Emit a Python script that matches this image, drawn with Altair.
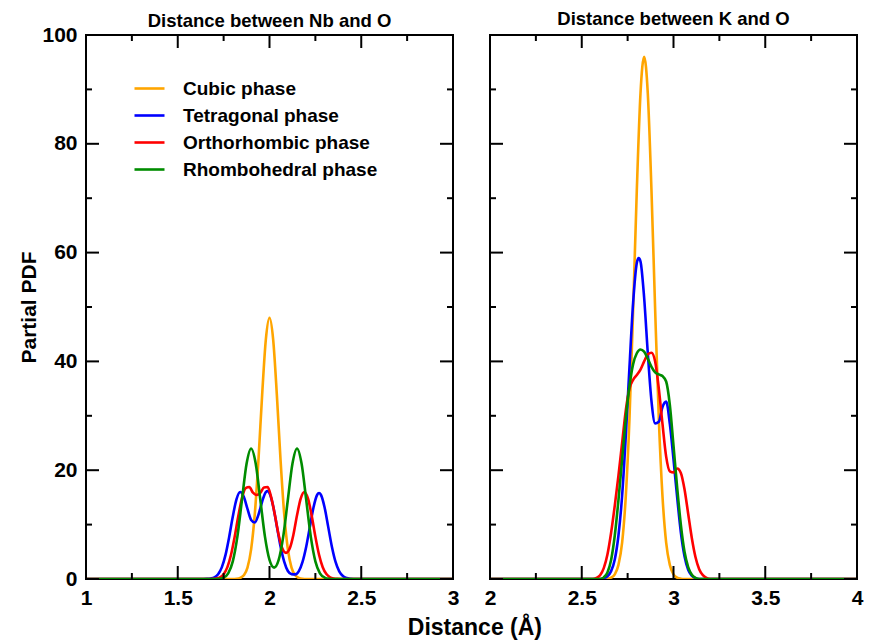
import altair as alt
import pandas as pd

phases = ["Cubic phase", "Tetragonal phase", "Orthorhombic phase", "Rhombohedral phase"]
colors = ["#ffa500", "#0000ff", "#ff0000", "#008c00"]

# ---------- Left panel: distance between Nb and O ----------
nb_cubic_x = [1.0, 1.80, 1.82, 1.84, 1.86, 1.88, 1.90, 1.92, 1.94, 1.96, 1.98, 2.00,
              2.02, 2.04, 2.06, 2.08, 2.10, 2.12, 2.14, 2.16, 2.18, 2.20, 3.0]
nb_cubic_y = [0, 0, 0.04, 0.19, 0.67, 2.1, 5.5, 12.0, 22.0, 33.9, 44.0, 48.0,
              44.0, 33.9, 22.0, 12.0, 5.5, 2.1, 0.67, 0.19, 0.04, 0, 0]

nb_tetra_x = [1.0, 1.64, 1.66, 1.68, 1.70, 1.72, 1.74, 1.76, 1.78, 1.80, 1.82, 1.84, 1.86, 1.88,
              1.90, 1.92, 1.94, 1.96, 1.98, 1.99, 2.00, 2.02, 2.04, 2.06, 2.08, 2.10, 2.12,
              2.14, 2.16, 2.18, 2.20, 2.22, 2.24, 2.26, 2.27, 2.28, 2.30, 2.32, 2.34, 2.36,
              2.38, 2.40, 2.42, 2.44, 2.46, 2.48, 3.0]
nb_tetra_y = [0, 0, 0.02, 0.1, 0.31, 0.89, 2.14, 4.39, 7.69, 11.48, 14.63, 15.98, 15.12, 12.89,
              10.86, 10.39, 11.84, 14.25, 15.99, 16.18, 15.78, 13.38, 9.71, 6.0, 3.18, 1.47, 0.9,
              0.85, 1.45, 3.14, 5.93, 9.58, 13.2, 15.49, 15.8, 15.49, 13.2, 9.58, 5.93, 3.13,
              1.4, 0.54, 0.175, 0.049, 0.011, 0, 0]

nb_ortho_x = [1.0, 1.65, 1.67, 1.69, 1.71, 1.73, 1.75, 1.77, 1.79, 1.81, 1.83, 1.85, 1.87, 1.89,
              1.91, 1.93, 1.95, 1.97, 1.99, 2.01, 2.03, 2.05, 2.07, 2.09, 2.11, 2.13, 2.15,
              2.17, 2.19, 2.21, 2.23, 2.25, 2.27, 2.29, 2.31, 2.33, 2.35, 2.37, 2.39, 3.0]
nb_ortho_y = [0, 0, 0.01, 0.02, 0.1, 0.31, 0.89, 2.14, 4.4, 7.71, 11.57, 14.89, 16.69, 16.9,
              15.86, 15.45, 15.86, 16.8, 16.9, 14.91, 11.66, 8.1, 5.6, 4.8, 5.6, 8.1, 11.72,
              14.79, 16.0, 14.77, 11.62, 7.79, 4.45, 2.16, 0.9, 0.32, 0.096, 0.024, 0, 0]

nb_rhombo_x = [1.0, 1.700, 1.725, 1.750, 1.775, 1.800, 1.825, 1.850, 1.875, 1.900, 1.925, 1.950,
               1.975, 2.000, 2.025, 2.050, 2.075, 2.100, 2.125, 2.150, 2.175, 2.200, 2.225,
               2.250, 2.275, 2.300, 2.325, 2.350, 3.0]
nb_rhombo_y = [0, 0, 0.05, 0.27, 1.05, 3.25, 7.79, 14.56, 21.18, 24.0, 21.18, 14.57,
               7.84, 3.52, 2.1, 3.52, 7.84, 14.57, 21.18, 24.0, 21.18, 14.56, 7.79,
               3.25, 1.05, 0.27, 0.05, 0, 0]

# ---------- Right panel: distance between K and O ----------
k_cubic_x = [2.0, 2.62, 2.64, 2.66, 2.68, 2.70, 2.72, 2.74, 2.76, 2.78, 2.80, 2.82, 2.84,
             2.86, 2.88, 2.90, 2.92, 2.94, 2.96, 2.98, 3.00, 3.02, 3.04, 3.06, 4.0]
k_cubic_y = [0, 0, 0.06, 0.24, 0.84, 2.6, 6.7, 15.2, 29.4, 49.5, 71.4, 89.2, 96.0,
             89.2, 71.4, 49.5, 29.4, 15.2, 6.7, 2.6, 0.84, 0.24, 0.06, 0, 0]

k_tetra_x = [2.0, 2.60, 2.62, 2.64, 2.66, 2.68, 2.70, 2.72, 2.74, 2.76, 2.78, 2.80, 2.81, 2.82,
             2.84, 2.86, 2.88, 2.90, 2.92, 2.94, 2.96, 2.98, 3.00, 3.02, 3.04, 3.06, 3.08,
             3.10, 3.12, 3.14, 4.0]
k_tetra_y = [0, 0, 0.15, 0.5, 1.45, 3.6, 8.0, 15.3, 26.3, 38.9, 50.8, 58.1, 59.0, 58.4,
             51.7, 41.5, 32.7, 28.6, 28.9, 31.6, 32.6, 28.5, 22.0, 15.0, 8.6, 4.2, 1.7,
             0.6, 0.15, 0, 0]

k_ortho_x = [2.0, 2.56, 2.58, 2.60, 2.62, 2.64, 2.66, 2.68, 2.70, 2.72, 2.74, 2.76, 2.78, 2.80,
             2.82, 2.84, 2.86, 2.88, 2.90, 2.92, 2.94, 2.96, 2.98, 3.00, 3.02, 3.04, 3.06,
             3.08, 3.10, 3.12, 3.14, 3.16, 3.18, 3.20, 4.0]
k_ortho_y = [0, 0, 0.2, 0.7, 2.0, 4.5, 8.5, 13.5, 19.0, 25.0, 31.0, 35.0, 36.6, 37.5,
             38.5, 40.0, 41.3, 41.6, 40.0, 35.0, 28.5, 22.5, 19.8, 19.6, 20.3, 19.5, 16.5,
             12.0, 7.5, 4.0, 1.8, 0.7, 0.2, 0, 0]

k_rhombo_x = [2.0, 2.60, 2.62, 2.64, 2.66, 2.68, 2.70, 2.72, 2.74, 2.76, 2.78, 2.80, 2.82,
              2.84, 2.86, 2.88, 2.90, 2.92, 2.94, 2.96, 2.98, 3.00, 3.02, 3.04, 3.06, 3.08,
              3.10, 3.12, 3.14, 4.0]
k_rhombo_y = [0, 0, 0.3, 1.2, 3.5, 8.0, 14.5, 22.0, 29.5, 35.5, 39.5, 41.5, 42.2,
              41.8, 40.5, 39.0, 38.0, 37.6, 37.3, 36.3, 32.0, 24.5, 16.8, 10.0, 5.0, 2.2,
              0.8, 0.2, 0, 0]

left_title = "Distance between Nb and O"
right_title = "Distance between K and O"
left_xmajor = [1, 1.5, 2, 2.5, 3]
left_xminor = [1.25, 1.75, 2.25, 2.75]
right_xmajor = [2, 2.5, 3, 3.5, 4]
right_xminor = [2.25, 2.75, 3.25, 3.75]
y_major = [0, 20, 40, 60, 80, 100]
y_minor = [10, 30, 50, 70, 90]

W, H = 367, 544
FONT = "Liberation Sans"


def build_df(series):
    frames = []
    for ph, xs, ys in series:
        frames.append(pd.DataFrame({"x": xs, "y": ys, "phase": ph}))
    return pd.concat(frames, ignore_index=True)


left_df = build_df([
    (phases[0], nb_cubic_x, nb_cubic_y),
    (phases[1], nb_tetra_x, nb_tetra_y),
    (phases[2], nb_ortho_x, nb_ortho_y),
    (phases[3], nb_rhombo_x, nb_rhombo_y),
])
right_df = build_df([
    (phases[0], k_cubic_x, k_cubic_y),
    (phases[1], k_tetra_x, k_tetra_y),
    (phases[2], k_ortho_x, k_ortho_y),
    (phases[3], k_rhombo_x, k_rhombo_y),
])

cscale = alt.Scale(domain=phases, range=colors)


def panel(df, xdomain, xmajor, xminor, title, show_y, legend, title_offset):
    xs = alt.Scale(domain=xdomain, nice=False, zero=False)
    ys = alt.Scale(domain=[0, 100], nice=False)
    xaxis = alt.Axis(values=xmajor, format="~g", ticks=False, domain=False, grid=False,
                     labelFlush=False, labelFontSize=21, labelFontWeight="bold",
                     labelPadding=8, labelColor="black", title=None)
    if show_y:
        yaxis = alt.Axis(values=y_major, ticks=False, domain=False, grid=False,
                         labelFontSize=21, labelFontWeight="bold", labelPadding=9,
                         labelColor="black", title="Partial PDF", titleFontSize=21,
                         titleFontWeight="bold", titlePadding=2, titleColor="black")
    else:
        yaxis = None
    layers = []
    for ph in phases:
        layers.append(
            alt.Chart(df).transform_filter(alt.datum.phase == ph)
            .mark_line(strokeWidth=2.6, interpolate="monotone", clip=True)
            .encode(
                x=alt.X("x:Q", scale=xs, axis=xaxis),
                y=alt.Y("y:Q", scale=ys, axis=yaxis),
                color=alt.Color("phase:N", scale=cscale, legend=legend),
            )
        )
    xmaj = pd.DataFrame({"x": xmajor})
    xmin = pd.DataFrame({"x": xminor})
    ymaj = pd.DataFrame({"y": y_major})
    ymin = pd.DataFrame({"y": y_minor})
    rule = dict(color="black", strokeWidth=2)
    for d, L in ((xmaj, 13), (xmin, 6)):
        layers.append(alt.Chart(d).mark_rule(**rule).encode(
            x=alt.X("x:Q", scale=xs, axis=xaxis), y=alt.value(H), y2=alt.value(H - L)))
        layers.append(alt.Chart(d).mark_rule(**rule).encode(
            x=alt.X("x:Q", scale=xs, axis=xaxis), y=alt.value(0), y2=alt.value(L)))
    for d, L in ((ymaj, 13), (ymin, 6)):
        layers.append(alt.Chart(d).mark_rule(**rule).encode(
            y=alt.Y("y:Q", scale=ys, axis=yaxis), x=alt.value(0), x2=alt.value(L)))
        layers.append(alt.Chart(d).mark_rule(**rule).encode(
            y=alt.Y("y:Q", scale=ys, axis=yaxis), x=alt.value(W), x2=alt.value(W - L)))
    return alt.layer(*layers).properties(
        width=W, height=H,
        title=alt.TitleParams(title, fontSize=18.5, fontWeight="bold",
                              offset=title_offset, color="black"),
    )


legend = alt.Legend(title=None, orient="none", legendX=47, legendY=37,
                    symbolType="stroke", symbolSize=900, symbolStrokeWidth=2.6,
                    labelFontSize=19, labelFontWeight="bold", labelOffset=17,
                    labelColor="black", rowPadding=-7, labelLimit=400)

left = panel(left_df, [1, 3], left_xmajor, left_xminor, left_title, True, legend, -6)
right = panel(right_df, [2, 4], right_xmajor, right_xminor, right_title, False, None, 6)

chart = (
    alt.hconcat(left, right, spacing=23)
    .resolve_legend(color="independent")
    .properties(
        title=alt.TitleParams("Distance (Å)", orient="bottom", anchor="middle",
                              fontSize=23, fontWeight="bold", color="black",
                              offset=8, dx=34),
        padding={"left": 9, "top": 0, "right": 0, "bottom": 0},
    )
    .configure(font=FONT)
    .configure_view(stroke="black", strokeWidth=2)
)

chart.save("out.html", embed_options={"renderer": "svg", "actions": False})
